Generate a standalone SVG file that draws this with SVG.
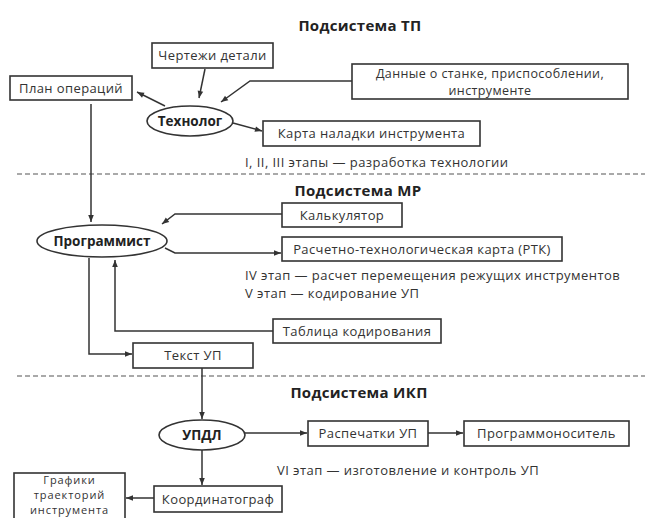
<svg xmlns="http://www.w3.org/2000/svg" width="645" height="518" viewBox="0 0 645 518">
<defs>
<marker id="ah" viewBox="0 0 10 10" refX="10" refY="5" markerWidth="8" markerHeight="7" markerUnits="userSpaceOnUse" orient="auto"><path d="M0,1 L10,5 L0,9 z" fill="#333"/></marker>
<style>
.b{fill:#fff;stroke:#333;stroke-width:1.6}
.t{font-family:"Open Sans","Noto Sans",sans-serif;font-size:13px;letter-spacing:0.4px;fill:#333;text-anchor:middle}
.m{font-size:12.5px}
.s{font-size:11px;letter-spacing:0.9px}
.l{font-family:"Open Sans","Noto Sans",sans-serif;font-size:13px;letter-spacing:0.45px;fill:#333}
.h{font-family:"Open Sans","Noto Sans",sans-serif;font-size:15px;letter-spacing:0.3px;font-weight:bold;fill:#222;text-anchor:middle}
.e{font-family:"Open Sans","Noto Sans",sans-serif;font-size:13.5px;font-weight:bold;fill:#222;text-anchor:middle}
.c{fill:none;stroke:#333;stroke-width:1.5}
.d{stroke:#555;stroke-width:1.2;stroke-dasharray:5,3}
</style>
</defs>
<rect width="645" height="518" fill="#fff"/>
<g id="separators">
<line class="d" x1="17" y1="174" x2="645" y2="174"/>
<line class="d" x1="17" y1="376" x2="645" y2="376"/>
</g>
<g id="titles">
<text class="h" x="360" y="31">Подсистема ТП</text>
<text class="h" x="358" y="196">Подсистема МР</text>
<text class="h" x="359" y="398">Подсистема ИКП</text>
<text class="l" x="245" y="167">I, II, III этапы — разработка технологии</text>
<text class="l" x="245" y="280">IV этап — расчет перемещения режущих инструментов</text>
<text class="l" x="245" y="298">V этап — кодирование УП</text>
<text class="l" x="277" y="475">VI этап — изготовление и контроль УП</text>
</g>
<g id="connectors">
<path class="c" d="M165,106 L137,92" marker-end="url(#ah)"/>
<path class="c" d="M205,69 L199,98" marker-end="url(#ah)"/>
<path class="c" d="M352,81 L250,81 L221,102" marker-end="url(#ah)"/>
<path class="c" d="M233,123 L262,131" marker-end="url(#ah)"/>
<path class="c" d="M91,104 L91,222" marker-end="url(#ah)"/>
<path class="c" d="M282,214 L175,214 L162,224" marker-end="url(#ah)"/>
<path class="c" d="M165,248 L175,253 L281,253" marker-end="url(#ah)"/>
<path class="c" d="M273,331 L115,331 L115,260" marker-end="url(#ah)"/>
<path class="c" d="M89,258 L89,354 L132,354" marker-end="url(#ah)"/>
<path class="c" d="M202,368 L202,419" marker-end="url(#ah)"/>
<path class="c" d="M245,433 L307,433" marker-end="url(#ah)"/>
<path class="c" d="M428,433 L463,433" marker-end="url(#ah)"/>
<path class="c" d="M202,450 L202,485" marker-end="url(#ah)"/>
<path class="c" d="M154,498 L126,498" marker-end="url(#ah)"/>
</g>
<g id="chertezhi"><rect class="b" x="152" y="43" width="121" height="25"/><text class="t" x="212.5" y="60">Чертежи детали</text></g>
<g id="plan"><rect class="b" x="10" y="76" width="122" height="24"/><text class="t" x="71" y="92.5">План операций</text></g>
<g id="dannye"><rect class="b" x="352" y="64" width="276" height="35"/><text class="t m" x="490" y="78">Данные о станке, приспособлении,</text><text class="t m" x="490" y="94.5">инструменте</text></g>
<g id="tekhnolog"><ellipse class="b" cx="190" cy="121" rx="43" ry="15"/><text class="e" x="190" y="126">Технолог</text></g>
<g id="karta"><rect class="b" x="263" y="121" width="217" height="25"/><text class="t" x="371.5" y="138">Карта наладки инструмента</text></g>
<g id="programmist"><ellipse class="b" cx="102" cy="241" rx="65" ry="16"/><text class="e" x="102" y="246">Программист</text></g>
<g id="kalkulyator"><rect class="b" x="282" y="203" width="120" height="24"/><text class="t" x="342" y="219.5">Калькулятор</text></g>
<g id="rtk"><rect class="b" x="282" y="237" width="280" height="24"/><text class="t" x="422" y="253.5">Расчетно-технологическая карта (РТК)</text></g>
<g id="tablitsa"><rect class="b" x="273" y="319" width="168" height="24"/><text class="t" x="357" y="335.5">Таблица кодирования</text></g>
<g id="tekst"><rect class="b" x="133" y="343" width="120" height="25"/><text class="t" x="193" y="360">Текст УП</text></g>
<g id="updl"><ellipse class="b" cx="202" cy="435" rx="43" ry="15"/><text class="e" x="202" y="440">УПДЛ</text></g>
<g id="raspechatki"><rect class="b" x="308" y="421" width="120" height="25"/><text class="t" x="368" y="438">Распечатки УП</text></g>
<g id="programmonositel"><rect class="b" x="464" y="421" width="165" height="25"/><text class="t" x="546.5" y="438">Программоноситель</text></g>
<g id="koordinatograf"><rect class="b" x="154" y="486" width="128" height="26"/><text class="t" x="218" y="503.5">Координатограф</text></g>
<g id="grafiki"><rect class="b" x="14" y="473" width="111" height="50"/><text class="t s" x="69.5" y="484">Графики</text><text class="t s" x="69.5" y="499">траекторий</text><text class="t s" x="69.5" y="514">инструмента</text></g>
</svg>
